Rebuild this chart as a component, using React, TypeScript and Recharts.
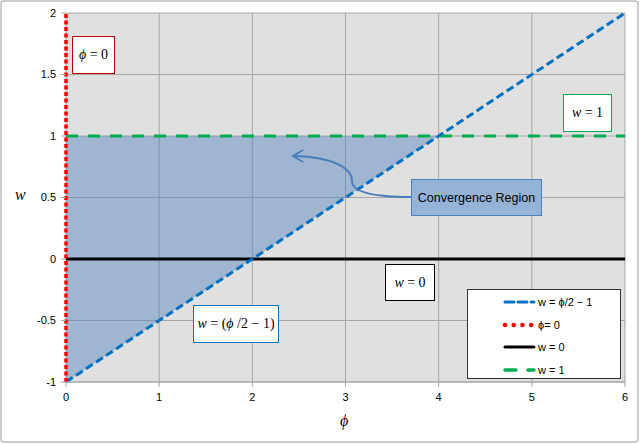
import React from "react";
import {
  ComposedChart,
  Line,
  Area,
  XAxis,
  YAxis,
  CartesianGrid,
  ReferenceLine,
} from "recharts";

// values
const phiTicks = [0, 1, 2, 3, 4, 5, 6];
const wTicks = [-1, -0.5, 0, 0.5, 1, 1.5, 2];

const phiPoints = [0, 2, 4, 6];
const wDiagonal = [-1, 0, 1, 2];
const wZero = [0, 0, 0, 0];
const wOne = [1, 1, 1, 1];
const regionLow = [-1, 0, 1, null];
const regionHigh = [1, 1, 1, null];

const legendItems = [
  { label: "w = ϕ/2 − 1", color: "#0070c0", dash: "9 4", width: 3, cap: "round" as const },
  { label: "ϕ= 0", color: "#ff0000", dash: "0.1 8.6", width: 4.5, cap: "round" as const },
  { label: "w = 0", color: "#000000", dash: "", width: 3, cap: "round" as const },
  { label: "w = 1", color: "#00b050", dash: "11 12", width: 3.5, cap: "round" as const },
];

const data = phiPoints.map((phi, i) => ({
  phi,
  diag: wDiagonal[i],
  zero: wZero[i],
  one: wOne[i],
  region: regionLow[i] === null ? null : [regionLow[i], regionHigh[i]],
}));

const FONT = "'Liberation Sans', Arial, sans-serif";
const SERIF = "'Liberation Serif', 'Times New Roman', serif";
const GRID = "#a6a6a6";

export default function App() {
  return (
    <div style={pageStyle}>
      <ComposedChart
        width={640}
        height={444}
        data={data}
        margin={{ top: 13, right: 15, bottom: 32, left: 10 }}
      >
        <CartesianGrid stroke={GRID} fill="#e0e0e0" />
        <XAxis
          dataKey="phi"
          type="number"
          domain={[0, 6]}
          ticks={phiTicks}
          interval={0}
          height={30}
          tickSize={5}
          tickMargin={6}
          axisLine={{ stroke: GRID }}
          tickLine={{ stroke: GRID }}
          tick={{ fill: "#000", fontSize: 11, fontFamily: FONT }}
        />
        <YAxis
          type="number"
          domain={[-1, 2]}
          ticks={wTicks}
          interval={0}
          width={56}
          tickSize={5}
          tickMargin={5}
          axisLine={false}
          tickLine={{ stroke: GRID }}
          tick={{ fill: "#000", fontSize: 11, fontFamily: FONT }}
        />
        <Line
          dataKey="zero"
          type="linear"
          stroke="#000"
          strokeWidth={3}
          dot={false}
          isAnimationActive={false}
        />
        <Line
          dataKey="one"
          type="linear"
          stroke="#00b050"
          strokeWidth={3}
          strokeDasharray="12 10"
          dot={false}
          isAnimationActive={false}
        />
        <Area
          dataKey="region"
          type="linear"
          stroke="none"
          fill="#4f81bd"
          fillOpacity={0.45}
          isAnimationActive={false}
        />
        <Line
          dataKey="diag"
          type="linear"
          stroke="#0070c0"
          strokeWidth={3}
          strokeDasharray="8 4"
          dot={false}
          isAnimationActive={false}
        />
        <ReferenceLine
          x={0}
          stroke="#ff0000"
          strokeWidth={3.5}
          strokeDasharray="4 2.5"
        />
      </ComposedChart>

      {/* chart frame and arrow */}
      <svg width={640} height={444} style={{ position: "absolute", left: 0, top: 0, pointerEvents: "none" }}>
        <rect x={1} y={1} width={637} height={441} rx={3} fill="none" stroke="#bdbdbd" strokeWidth={1.5} />
        <path
          d="M411,197 C378,197 352,193 352,181 C352,167 330,157 295,156"
          fill="none"
          stroke="#4a7ebb"
          strokeWidth={2}
        />
        <path d="M303,150 L293,156 L303,162" fill="none" stroke="#4a7ebb" strokeWidth={2} />
      </svg>

      {/* axis titles */}
      <div style={{ ...axisTitle, left: 15, top: 186 }}>w</div>
      <div style={{ ...axisTitle, left: 340, top: 412 }}>ϕ</div>

      {/* annotations */}
      <div style={{ ...noteBox, left: 72, top: 36, width: 41, height: 36, border: "1.5px solid #c00000" }}>
        <span><i>ϕ</i> = 0</span>
      </div>
      <div style={{ ...noteBox, left: 563, top: 94, width: 47, height: 36, border: "1.5px solid #00b050" }}>
        <span><i>w</i> = 1</span>
      </div>
      <div style={{ ...noteBox, left: 385, top: 264, width: 48, height: 35, border: "1.5px solid #000" }}>
        <span><i>w</i> = 0</span>
      </div>
      <div style={{ ...noteBox, left: 193, top: 305, width: 84, height: 36, border: "1.5px solid #0070c0" }}>
        <span><i>w</i> = (<i>ϕ</i> /2 − 1)</span>
      </div>
      <div style={convergenceStyle}>Convergence Region</div>

      {/* legend */}
      <div style={legendStyle}>
        {legendItems.map((item, i) => (
          <div key={item.label} style={{ position: "absolute", left: 0, top: 4 + i * 22.5, height: 16, display: "flex", alignItems: "center" }}>
            <svg width={70} height={16}>
              <line
                x1={37}
                x2={66}
                y1={8}
                y2={8}
                stroke={item.color}
                strokeWidth={item.width}
                strokeDasharray={item.dash || undefined}
                strokeLinecap={item.cap}
              />
            </svg>
            <span style={{ fontFamily: FONT, fontSize: 11, color: "#000" }}>{item.label}</span>
          </div>
        ))}
      </div>
    </div>
  );
}

const pageStyle: React.CSSProperties = {
  position: "absolute",
  left: 0,
  top: 0,
  width: 640,
  height: 444,
  background: "#ffffff",
};

const axisTitle: React.CSSProperties = {
  position: "absolute",
  fontFamily: SERIF,
  fontStyle: "italic",
  fontSize: 16,
  color: "#000",
};

const noteBox: React.CSSProperties = {
  position: "absolute",
  background: "#ffffff",
  display: "flex",
  alignItems: "center",
  justifyContent: "center",
  fontFamily: SERIF,
  fontSize: 14,
  color: "#000",
  whiteSpace: "nowrap",
};

const convergenceStyle: React.CSSProperties = {
  position: "absolute",
  left: 411,
  top: 179,
  width: 129,
  height: 35,
  background: "#95b3d7",
  border: "1.5px solid #4f81bd",
  display: "flex",
  alignItems: "center",
  justifyContent: "center",
  fontFamily: FONT,
  fontSize: 12.5,
  color: "#000",
  whiteSpace: "nowrap",
};

const legendStyle: React.CSSProperties = {
  position: "absolute",
  left: 467,
  top: 289,
  width: 152,
  height: 88,
  background: "#ffffff",
  border: "1.5px solid #333",
};
